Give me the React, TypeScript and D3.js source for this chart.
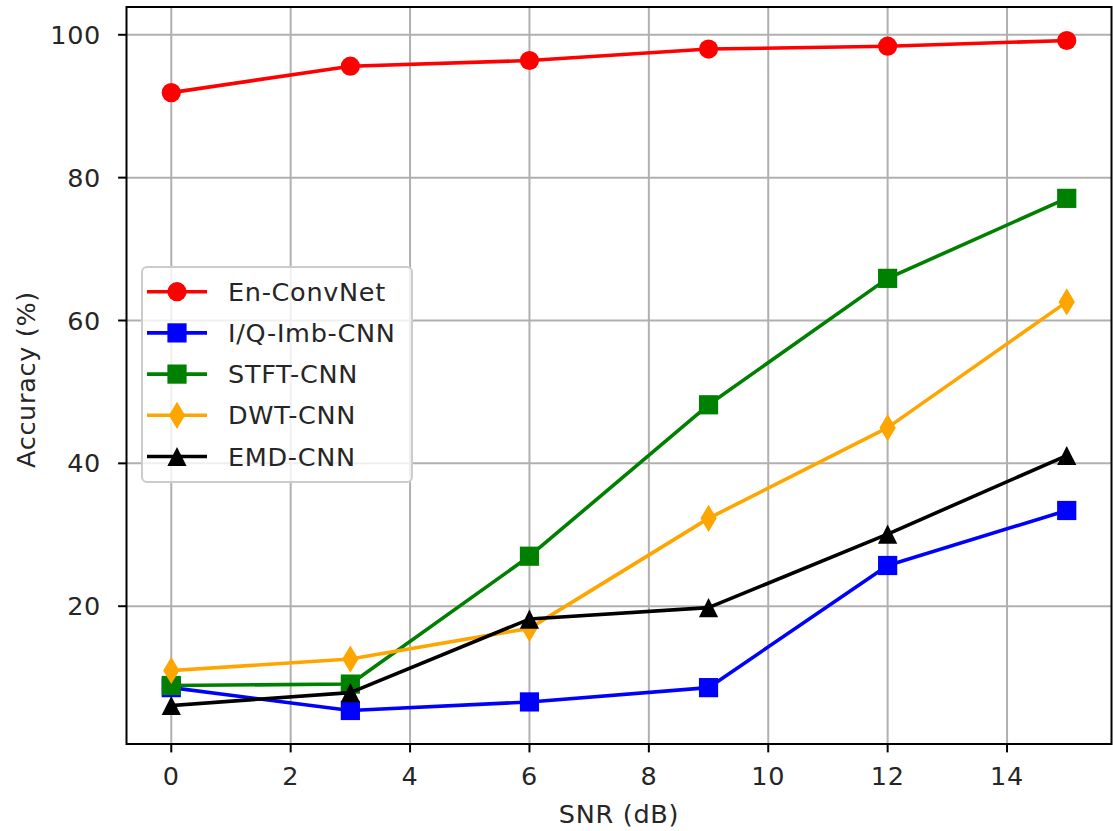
import React from "react";
import * as d3 from "d3";

const snr = [0, 3, 6, 9, 12, 15];
const enConvNet = [91.9, 95.6, 96.4, 98.0, 98.4, 99.2];
const iqImbCnn = [8.6, 5.4, 6.6, 8.6, 25.7, 33.4];
const stftCnn = [8.9, 9.1, 27.0, 48.2, 65.9, 77.1];
const dwtCnn = [11.0, 12.6, 16.9, 32.3, 45.0, 62.6];
const emdCnn = [6.1, 7.9, 18.2, 19.8, 30.1, 41.1];
const xTicks = [0, 2, 4, 6, 8, 10, 12, 14];
const yTicks = [20, 40, 60, 80, 100];

type Marker = "circle" | "square" | "thinDiamond" | "triangle";
const seriesNames = ["En-ConvNet", "I/Q-Imb-CNN", "STFT-CNN", "DWT-CNN", "EMD-CNN"];
const seriesValues = [enConvNet, iqImbCnn, stftCnn, dwtCnn, emdCnn];
const seriesColors = ["#ff0000", "#0000ff", "#008000", "#ffa500", "#000000"];
const seriesMarkers: Marker[] = ["circle", "square", "square", "thinDiamond", "triangle"];

const W = 1113;
const H = 831;
const left = 126.5;
const right = 1111.5;
const top = 7;
const bottom = 744;
const FONT = "DejaVu Sans, sans-serif";
const FS = 25.5;
const LS = 0.7;
const MS = 19.2; // marker size px

function MarkerShape({ type, x, y, color }: { type: Marker; x: number; y: number; color: string }) {
  const h = MS / 2;
  if (type === "circle") return <circle cx={x} cy={y} r={h} fill={color} />;
  if (type === "square") return <rect x={x - h} y={y - h} width={MS} height={MS} fill={color} />;
  if (type === "thinDiamond") {
    const dy = h * Math.SQRT2;
    const dx = dy * 0.6;
    return <path d={`M${x},${y - dy}L${x + dx},${y}L${x},${y + dy}L${x - dx},${y}Z`} fill={color} />;
  }
  return <path d={`M${x},${y - h}L${x + h},${y + h}L${x - h},${y + h}Z`} fill={color} />;
}

export default function App() {
  const allVals = seriesValues.flat();
  const ymin = d3.min(allVals) as number;
  const ymax = d3.max(allVals) as number;
  const ypad = (ymax - ymin) * 0.05;
  const x = d3.scaleLinear().domain([-0.75, 15.75]).range([left, right]);
  const y = d3.scaleLinear().domain([ymin - ypad, ymax + ypad]).range([bottom, top]);
  const line = d3
    .line<number>()
    .x((_, i) => x(snr[i]))
    .y((d) => y(d));

  const legX = 142;
  const legY = 267;
  const legW = 270;
  const legH = 215;
  const rowY0 = 291.7;
  const rowStep = 41.2;

  return (
    <svg
      width={W}
      height={H}
      style={{ position: "absolute", left: 0, top: 0, background: "#fff" }}
      fontFamily={FONT}
      letterSpacing={LS}
    >
      <rect x={0} y={0} width={W} height={H} fill="#fff" />
      {/* grid */}
      {xTicks.map((t) => (
        <line key={"gx" + t} x1={x(t)} x2={x(t)} y1={top} y2={bottom} stroke="#b0b0b0" strokeWidth={2} />
      ))}
      {yTicks.map((t) => (
        <line key={"gy" + t} x1={left} x2={right} y1={y(t)} y2={y(t)} stroke="#b0b0b0" strokeWidth={2} />
      ))}
      {/* series */}
      {seriesValues.map((vals, si) => (
        <g key={seriesNames[si]}>
          <path d={line(vals) || ""} fill="none" stroke={seriesColors[si]} strokeWidth={3.6} strokeLinejoin="round" strokeLinecap="square" />
          {vals.map((v, i) => (
            <MarkerShape key={i} type={seriesMarkers[si]} x={x(snr[i])} y={y(v)} color={seriesColors[si]} />
          ))}
        </g>
      ))}
      {/* spines */}
      <rect x={left} y={top} width={right - left} height={bottom - top} fill="none" stroke="#000" strokeWidth={2} />
      {/* x ticks */}
      {xTicks.map((t) => (
        <g key={"xt" + t}>
          <line x1={x(t)} x2={x(t)} y1={bottom} y2={bottom + 8.4} stroke="#000" strokeWidth={2} />
          <text x={x(t)} y={785} textAnchor="middle" fontSize={FS} fill="#262626">
            {t}
          </text>
        </g>
      ))}
      {/* y ticks */}
      {yTicks.map((t) => (
        <g key={"yt" + t}>
          <line x1={left - 8.4} x2={left} y1={y(t)} y2={y(t)} stroke="#000" strokeWidth={2} />
          <text x={101} y={y(t) + 9} textAnchor="end" fontSize={FS} fill="#262626">
            {t}
          </text>
        </g>
      ))}
      {/* axis labels */}
      <text x={(left + right) / 2} y={823} textAnchor="middle" fontSize={FS} fill="#262626">
        SNR (dB)
      </text>
      <text
        transform={`translate(35, ${(top + bottom) / 2 + 4}) rotate(-90)`}
        textAnchor="middle"
        fontSize={FS}
        fill="#262626"
      >
        Accuracy (%)
      </text>
      {/* legend */}
      <rect x={legX} y={legY} width={legW} height={legH} rx={5} fill="#fff" fillOpacity={0.8} stroke="#cccccc" strokeWidth={2} />
      {seriesNames.map((name, i) => {
        const cy = rowY0 + i * rowStep;
        return (
          <g key={"leg" + name}>
            <line x1={147} x2={207} y1={cy} y2={cy} stroke={seriesColors[i]} strokeWidth={3.6} />
            <MarkerShape type={seriesMarkers[i]} x={177} y={cy} color={seriesColors[i]} />
            <text x={228} y={cy + 9} fontSize={FS} fill="#262626">
              {name}
            </text>
          </g>
        );
      })}
    </svg>
  );
}
